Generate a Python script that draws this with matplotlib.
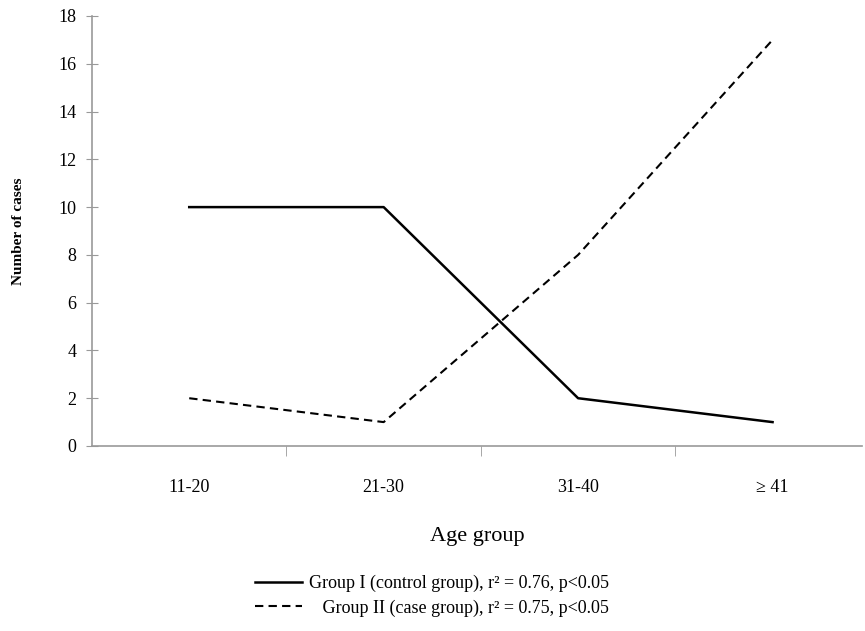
import matplotlib.pyplot as plt

plt.rcParams['font.family'] = ['Liberation Serif', 'DejaVu Serif']

age_groups = ['11-20', '21-30', '31-40', '\u2265 41']
group1 = [10, 10, 2, 1]
group2 = [2, 1, 8, 17]
label1 = 'Group I (control group), r\u00b2 = 0.76, p<0.05'
label2 = '   Group II (case group), r\u00b2 = 0.75, p<0.05'

fig = plt.figure(figsize=(8.65, 6.31), dpi=100)
ax = fig.add_axes([92 / 865, 1 - 446 / 631, (862 - 92) / 865, (446 - 16) / 631])

x = range(len(age_groups))
ax.plot(x, group1, color='black', lw=1.8, label=label1)
ax.plot(x, group2, color='black', lw=1.5, ls=(0, (4, 2.5)), label=label2)

ax.set_xlim(-0.5, 3.46)
ax.set_ylim(0, 18)
ax.set_yticks(range(0, 19, 2))
ax.set_xticks(list(x))
ax.set_xticklabels(age_groups, fontsize=13)
ax.set_xticks([0.5, 1.5, 2.5], minor=True)
ax.tick_params(axis='x', which='major', length=0, pad=24)
ax.tick_params(axis='x', which='minor', length=7, direction='out', color='#999999')
ax.tick_params(axis='y', length=8, direction='inout', color='#999999', labelsize=13, pad=7)

for s in ['top', 'right']:
    ax.spines[s].set_visible(False)
for s in ['left', 'bottom']:
    ax.spines[s].set_color('#999999')
    ax.spines[s].set_linewidth(1.2)

ax.set_ylabel('Number of cases', fontsize=11, fontweight='bold', labelpad=24)
ax.set_xlabel('Age group', fontsize=16, labelpad=22)

fig.legend(loc='upper left', bbox_to_anchor=(246 / 865, 1 - 566 / 631), frameon=False,
           fontsize=13, handlelength=2.6, handletextpad=0.4, labelspacing=0.4,
           borderpad=0)

fig.savefig('out.png', dpi=100)
